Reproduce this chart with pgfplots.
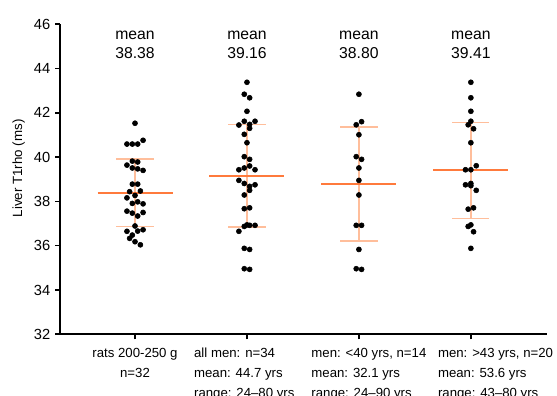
\documentclass[border=0pt]{standalone}
\usepackage{pgfplots}
\pgfplotsset{compat=1.18}
\usepackage{fontspec}
\setmainfont{Liberation Sans}
\definecolor{meanorange}{RGB}{255,122,60}
\definecolor{sdorange}{RGB}{255,190,155}
\begin{document}
\begin{tikzpicture}
\begin{axis}[
  name=ax,
  width=365.25pt, height=232.5pt, scale only axis,
  xmin=0.33, xmax=4.68, ymin=32, ymax=46,
  axis x line*=bottom, axis y line*=left,
  axis line style={line width=1.5pt, black},
  tick align=outside, major tick length=3.75pt,
  tick style={line width=1.2pt, black},
  ytick={32,34,...,46},
  xtick={1,2,3,4},
  xticklabels={
    {\begin{tabular}{@{}c@{}}rats 200-250 g\\n=32\end{tabular}},
    {\begin{tabular}{@{}l@{\hspace*{4pt}}}all men: n=34\\mean: 44.7 yrs\\range: 24–80 yrs\end{tabular}},
    {\begin{tabular}{@{\hspace*{15pt}}l@{}}men: <40 yrs, n=14\\mean: 32.1 yrs\\range: 24–90 yrs\end{tabular}},
    {\begin{tabular}{@{\hspace*{37pt}}l@{}}men: >43 yrs, n=20\\mean: 53.6 yrs\\range: 43–80 yrs\end{tabular}}},
  xticklabel style={font=\fontsize{9.9}{15}\selectfont, anchor=north},
  yticklabel style={font=\fontsize{11}{13}\selectfont},
  /pgf/number format/assume math mode=true,
  ylabel={Liver T1rho (ms)},
  ylabel style={font=\fontsize{10.5}{12}\selectfont},
  every axis y label/.style={at={(ticklabel cs:0.535)}, rotate=90, anchor=near ticklabel},
  clip=false,
]
% SD bars
\addplot[sdorange, line width=1.1pt] coordinates {(1,36.86) (1,39.91)};
\addplot[sdorange, line width=1.1pt] coordinates {(0.834,39.91) (1.166,39.91)};
\addplot[sdorange, line width=1.1pt] coordinates {(0.834,36.86) (1.166,36.86)};
\addplot[sdorange, line width=1.1pt] coordinates {(2,36.84) (2,41.48)};
\addplot[sdorange, line width=1.1pt] coordinates {(1.834,41.48) (2.166,41.48)};
\addplot[sdorange, line width=1.1pt] coordinates {(1.834,36.84) (2.166,36.84)};
\addplot[sdorange, line width=1.1pt] coordinates {(3,36.22) (3,41.36)};
\addplot[sdorange, line width=1.1pt] coordinates {(2.834,41.36) (3.166,41.36)};
\addplot[sdorange, line width=1.1pt] coordinates {(2.834,36.22) (3.166,36.22)};
\addplot[sdorange, line width=1.1pt] coordinates {(4,37.24) (4,41.57)};
\addplot[sdorange, line width=1.1pt] coordinates {(3.834,41.57) (4.166,41.57)};
\addplot[sdorange, line width=1.1pt] coordinates {(3.834,37.24) (4.166,37.24)};
% means
\addplot[meanorange, line width=1.7pt] coordinates {(0.665,38.38) (1.335,38.38)};
\addplot[meanorange, line width=1.7pt] coordinates {(1.665,39.16) (2.335,39.16)};
\addplot[meanorange, line width=1.7pt] coordinates {(2.665,38.80) (3.335,38.80)};
\addplot[meanorange, line width=1.7pt] coordinates {(3.665,39.41) (4.335,39.41)};
% dots
\addplot[only marks, mark=*, mark size=1.9pt, black] coordinates {
(1,41.53)
(0.928,40.59) (0.976,40.59) (1.024,40.59) (1.072,40.76)
(0.976,39.82) (1.024,39.78)
(0.928,39.64) (0.976,39.51) (1.024,39.47) (1.072,39.40)
(0.976,38.78) (1.024,38.78)
(0.952,38.44) (1.048,38.47)
(1,38.27)
(0.928,38.16)
(1.024,37.98)
(0.976,37.91) (1.072,37.89)
(0.928,37.56)
(0.976,37.47) (1.072,37.50)
(1.024,37.34)
(1,36.89)
(0.928,36.65) (1.024,36.66) (1.072,36.72)
(0.976,36.48)
(0.952,36.33)
(1,36.18)
(1.048,36.04)
};
\addplot[only marks, mark=*, mark size=1.9pt, black] coordinates {
(2,43.38)
(1.976,42.84) (2.024,42.68)
(2,42.07)
(1.928,41.45) (1.976,41.62) (2.024,41.48) (2.072,41.62) (2.024,41.30)
(1.976,41.03)
(2,40.65)
(1.976,40.02) (2.024,39.90)
(1.928,39.43) (1.976,39.51) (2.024,39.60) (2.072,39.43)
(1.928,38.95) (1.976,38.81) (2.024,38.68) (2.072,38.75) (2.024,38.50)
(1.976,38.29)
(1.976,37.67) (2.024,37.71)
(1.976,36.87) (2,36.94) (2.024,36.92) (2.072,36.92)
(1.928,36.65)
(1.976,35.88) (2.024,35.83)
(1.976,34.96) (2.024,34.93)
};
\addplot[only marks, mark=*, mark size=1.9pt, black] coordinates {
(3,42.84)
(2.976,41.46) (3.024,41.60)
(3,41.01)
(2.976,40.02) (3.024,39.90)
(3,39.51)
(3,38.95)
(3,38.29)
(2.976,36.92) (3.024,36.92)
(3,35.83)
(2.976,34.96) (3.024,34.93)
};
\addplot[only marks, mark=*, mark size=1.9pt, black] coordinates {
(4,43.38)
(4,42.68)
(4,42.07)
(4,41.62) (3.976,41.46) (4.024,41.28)
(4,40.65)
(4.048,39.61)
(3.952,39.43) (4,39.43)
(3.952,38.75) (4,38.81) (4,38.71)
(4.048,38.50)
(3.976,37.65) (4.024,37.71)
(4,36.94) (3.976,36.87)
(4.024,36.63)
(4,35.88)
};
% mean labels
\foreach \xx/\mm in {1/38.38, 2/39.16, 3/38.80, 4/39.41}{
  \edef\tmp{\noexpand\node[anchor=base, inner sep=0pt, font=\noexpand\fontsize{11.8}{14.25}\noexpand\selectfont] at (axis cs:\xx,44.47) {\noexpand\begin{tabular}[b]{@{}c@{}}mean\noexpand\\\mm\noexpand\end{tabular}};}
  \tmp
}
\end{axis}
\pgfresetboundingbox
\path[use as bounding box] ([xshift=-45pt,yshift=-46.3pt]ax.south west) rectangle ([xshift=7.5pt,yshift=18.2pt]ax.north east);
\end{tikzpicture}
\end{document}
